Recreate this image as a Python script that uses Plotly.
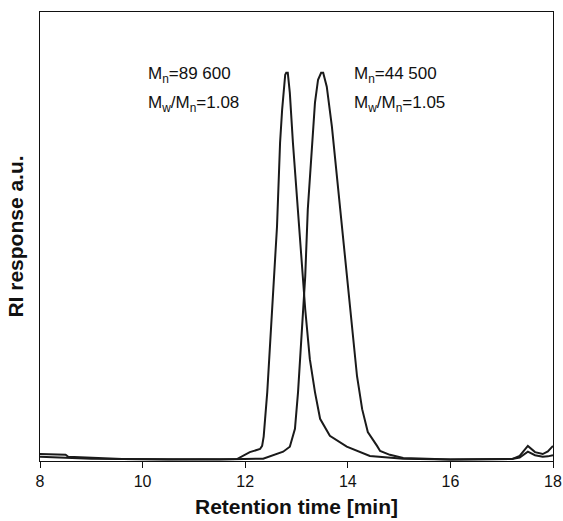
import plotly.graph_objects as go

# Retention time [min] and RI response (normalized)
t_a = [8.0, 8.5, 8.55, 9.0, 9.6, 10.5, 11.5, 11.84, 12.09, 12.29, 12.33, 12.36, 12.43, 12.54, 12.62,
       12.68, 12.72, 12.78, 12.80, 12.83, 12.87, 12.93, 13.03, 13.11, 13.17, 13.26, 13.36, 13.46,
       13.65, 13.98, 14.43, 15.08, 16.0, 17.2, 17.35, 17.51, 17.65, 17.8, 17.9, 18.0]
y_a = [0.015, 0.013, 0.008, 0.006, 0.002, 0.001, 0.001, 0.002, 0.02, 0.028, 0.036, 0.06, 0.175, 0.433, 0.603,
       0.82, 0.905, 0.995, 1.0, 1.0, 0.948, 0.82, 0.647, 0.518, 0.389, 0.26, 0.175, 0.106,
       0.062, 0.034, 0.010, 0.003, 0.001, 0.002, 0.006, 0.021, 0.012, 0.008, 0.009, 0.012]

t_b = [8.0, 8.5, 9.0, 9.6, 10.5, 11.5, 12.35, 12.74, 12.87, 12.97, 13.03, 13.11, 13.17, 13.22, 13.30,
       13.36, 13.42, 13.48, 13.52, 13.59, 13.69, 13.79, 13.89, 13.98, 14.08, 14.18, 14.28, 14.39,
       14.57, 14.63, 14.82, 15.08, 16.0, 17.2, 17.35, 17.51, 17.65, 17.8, 17.9, 18.0]
y_b = [0.008, 0.005, 0.003, 0.002, 0.001, 0.001, 0.003, 0.021, 0.034, 0.080, 0.175, 0.345, 0.474, 0.647, 0.82,
       0.923, 0.982, 1.0, 1.0, 0.964, 0.861, 0.732, 0.603, 0.474, 0.345, 0.216, 0.131, 0.072,
       0.036, 0.023, 0.013, 0.005, 0.001, 0.002, 0.01, 0.036, 0.02, 0.015, 0.022, 0.036]

x_ticks = [8, 10, 12, 14, 16, 18]

label_a = ["M<sub>n</sub>=89 600", "M<sub>w</sub>/M<sub>n</sub>=1.08"]
label_b = ["M<sub>n</sub>=44 500", "M<sub>w</sub>/M<sub>n</sub>=1.05"]

fig = go.Figure()
for t, y in [(t_a, y_a), (t_b, y_b)]:
    fig.add_trace(go.Scatter(x=t, y=y, mode="lines",
                             line=dict(color="#1a1a1a", width=2), showlegend=False))

family = "Liberation Sans, Arial, sans-serif"
font = dict(family=family, size=17, color="#111")
for xpos, labels in [(10.07, label_a), (14.08, label_b)]:
    for i, txt in enumerate(labels):
        fig.add_annotation(x=xpos, y=[0.995, 0.92][i], xref="x", yref="y", text=txt,
                           showarrow=False, xanchor="left", yanchor="middle", font=font)

fig.update_layout(
    width=563, height=521,
    margin=dict(l=40, r=10, t=12, b=60),
    paper_bgcolor="white", plot_bgcolor="white",
    font=font,
    xaxis=dict(range=[8, 18], tickvals=x_ticks, ticks="outside", ticklen=6,
               tickcolor="#111", showline=True, linecolor="#111", linewidth=1.2, mirror=True,
               showgrid=False, zeroline=False, automargin=False,
               title=dict(text="<b>Retention time [min]</b>", font=dict(family=family, size=21),
                          standoff=10),
               tickfont=dict(family=family, size=16)),
    yaxis=dict(range=[-0.003, 1.157], showticklabels=False, ticks="",
               showline=True, linecolor="#111", linewidth=1.2, mirror=True,
               showgrid=False, zeroline=False, automargin=False,
               title=dict(text="<b>RI response a.u.</b>", font=dict(family=family, size=21),
                          standoff=9)),
)

fig.write_html("out.html", config={"displayModeBar": False},
               post_script="document.body.style.margin='0';document.body.style.overflow='hidden';")
